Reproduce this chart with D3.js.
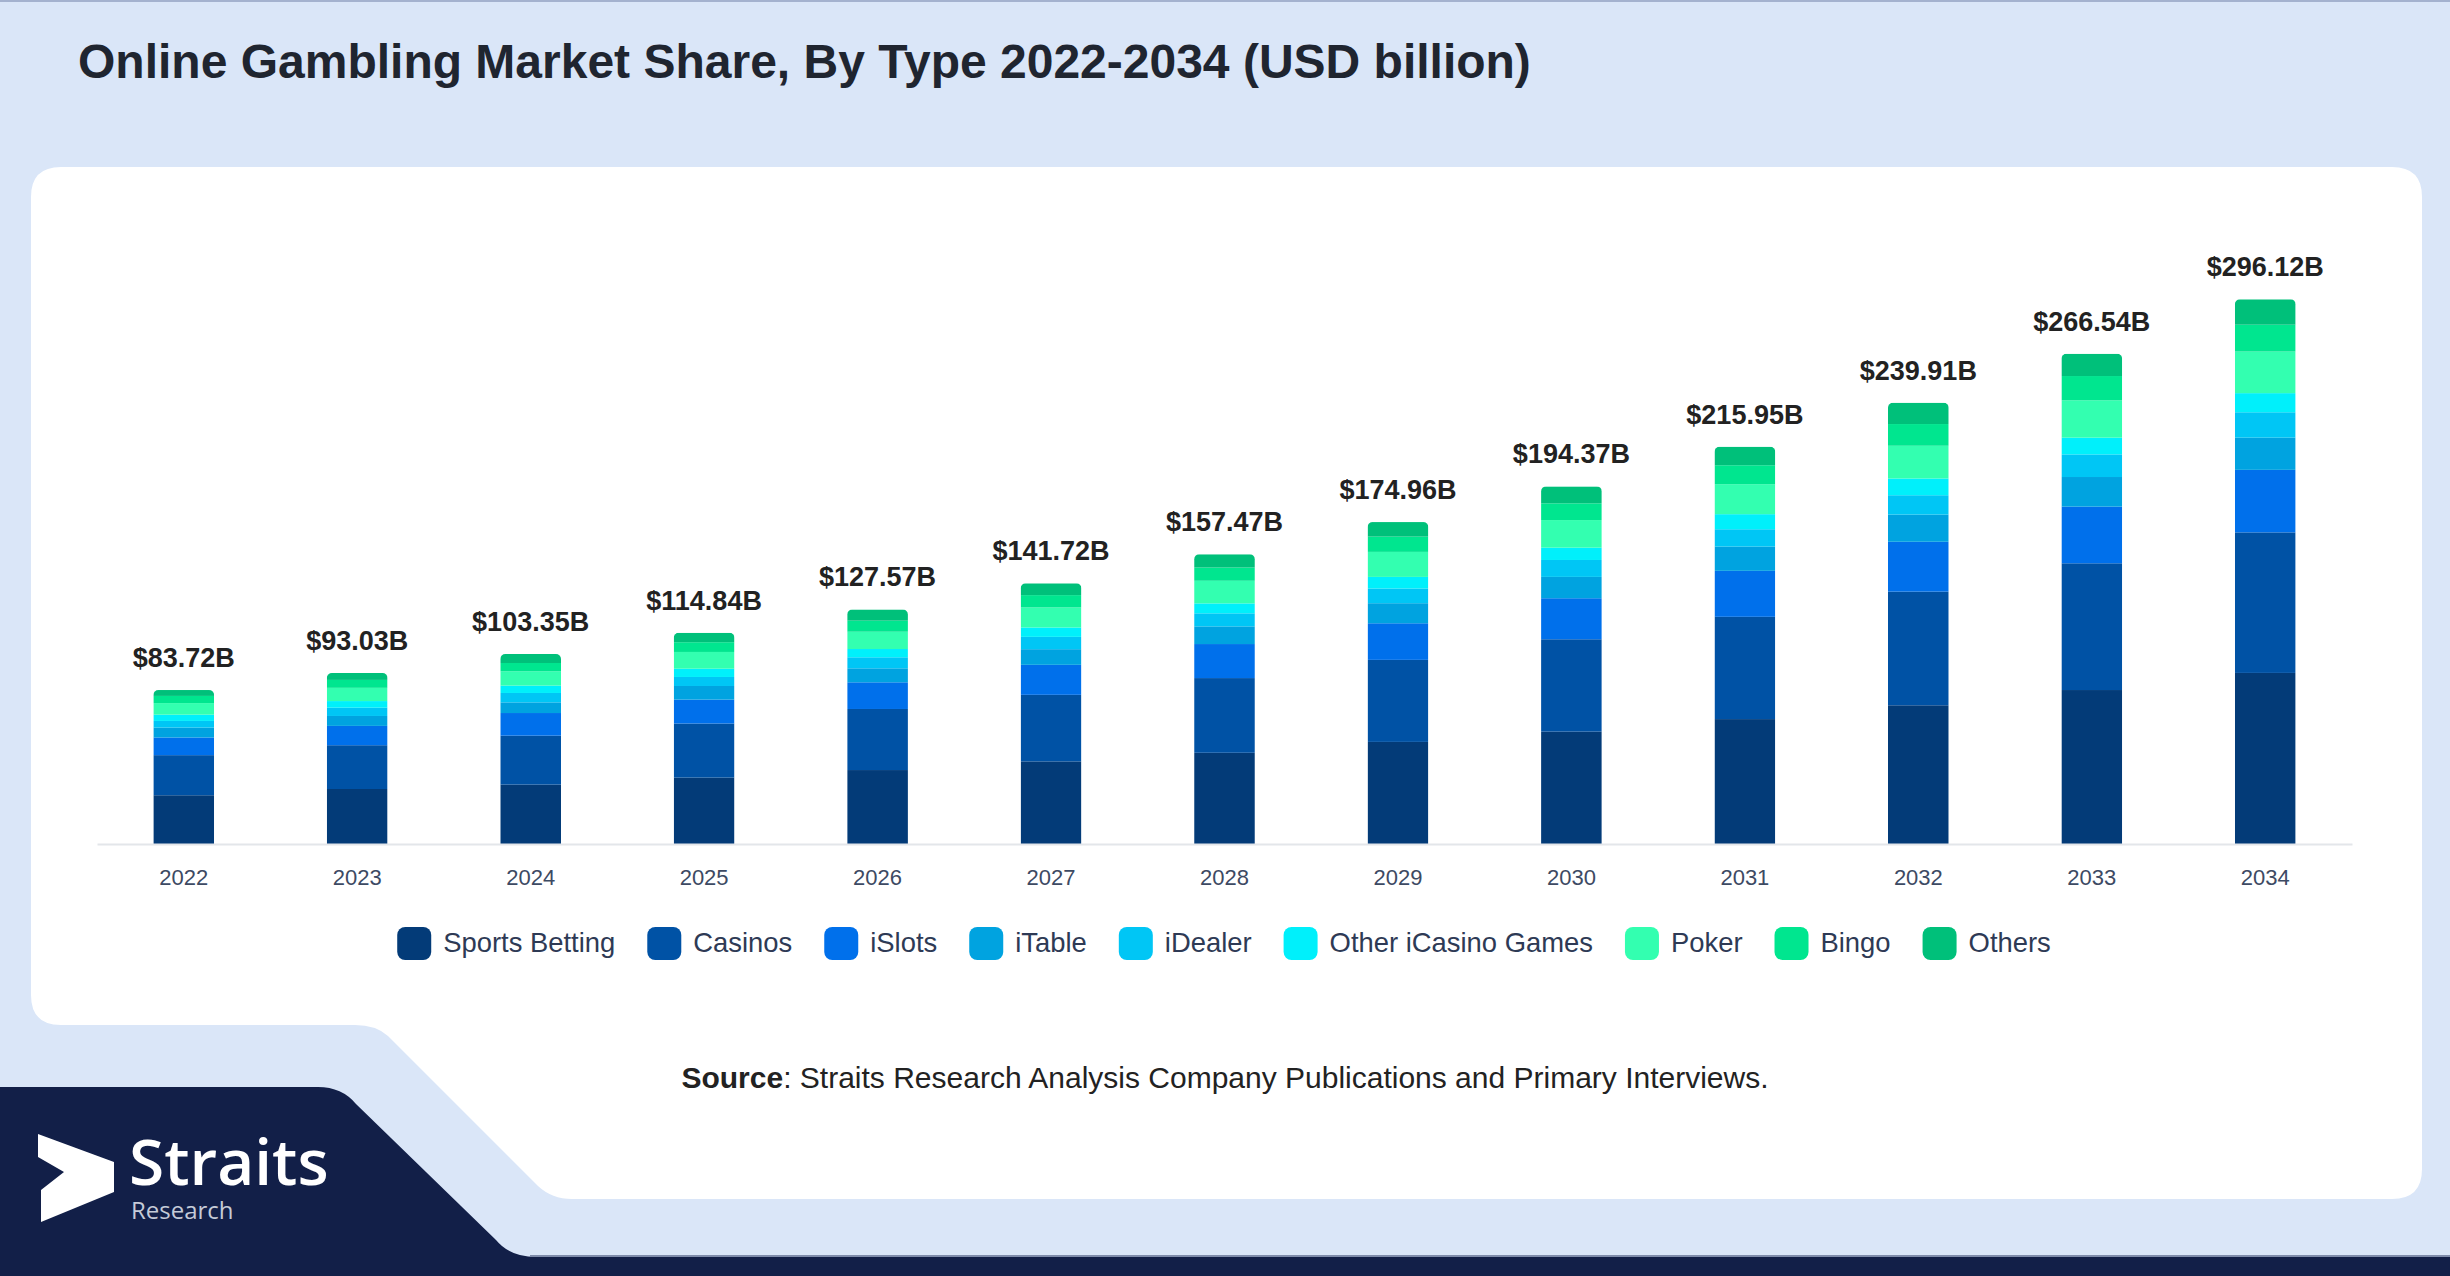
<!DOCTYPE html>
<html>
<head>
<meta charset="utf-8">
<script src="https://cdn.jsdelivr.net/npm/d3@7"></script>
<style>
  body { margin: 0; padding: 0; background: #dae6f8; }
  svg { display: block; }
</style>
</head>
<body>
<div id="chart"></div>
<script>
// chart data
var years = ["2022", "2023", "2024", "2025", "2026", "2027", "2028", "2029", "2030", "2031", "2032", "2033", "2034"];
var totals = [83.72, 93.03, 103.35, 114.84, 127.57, 141.72, 157.47, 174.96, 194.37, 215.95, 239.91, 266.54, 296.12];
var seriesNames = ["Sports Betting", "Casinos", "iSlots", "iTable", "iDealer", "Other iCasino Games", "Poker", "Bingo", "Others"];

var sportsBetting = [26.5, 29.9, 32.3, 36.1, 40.2, 44.9, 49.6, 55.5, 61.1, 67.9, 75.4, 83.7, 93.0];
var casinos = [21.8, 23.8, 26.6, 29.4, 33.2, 36.2, 40.6, 44.6, 50.2, 55.6, 61.8, 68.9, 76.4];
var iSlots = [9.6, 10.5, 12.3, 13.0, 14.5, 16.3, 18.5, 19.9, 22.3, 25.0, 27.1, 30.8, 34.0];
var iTable = [5.4, 5.4, 5.8, 7.4, 7.6, 8.5, 9.6, 10.9, 11.6, 13.2, 14.8, 16.1, 17.5];
var iDealer = [3.6, 4.5, 5.1, 4.9, 6.0, 6.7, 7.1, 8.0, 9.2, 9.4, 10.5, 12.3, 13.8];
var otherICasino = [3.4, 3.6, 4.0, 4.5, 4.5, 5.1, 5.4, 6.3, 6.7, 8.2, 9.1, 9.1, 10.4];
var poker = [6.3, 7.2, 7.8, 9.1, 9.4, 10.9, 12.3, 13.6, 15.0, 16.3, 17.8, 20.3, 22.6];
var bingo = [3.9, 4.3, 4.5, 5.3, 6.0, 6.7, 7.2, 8.3, 9.1, 10.3, 11.8, 13.2, 14.6];
var others = [3.2, 3.8, 4.9, 5.1, 6.1, 6.4, 7.2, 7.9, 9.2, 10.1, 11.6, 12.1, 13.8];

var seriesValues = [sportsBetting, casinos, iSlots, iTable, iDealer, otherICasino, poker, bingo, others];
var colors = ["#033b78", "#0052a5", "#0070eb", "#00a3e0", "#00c6f5", "#00f0fb", "#33ffb0", "#00e68f", "#00c07a"];

var svgWidth = 2450;
var svgHeight = 1276;

var svg = d3.select("#chart")
  .append("svg")
  .attr("width", svgWidth)
  .attr("height", svgHeight);

// page background + decorations
svg.append("rect")
  .attr("width", svgWidth)
  .attr("height", svgHeight)
  .attr("fill", "#dae6f8");

svg.append("rect")
  .attr("width", svgWidth)
  .attr("height", 2)
  .attr("fill", "#a4b2cf");

// white card with the notch at bottom left
svg.append("path")
  .attr("d", "M61,167 H2392 Q2422,167 2422,197 V1169 Q2422,1199 2392,1199 H572 Q552,1199 538,1186 L388,1036 Q376,1025 355,1025 H61 Q31,1025 31,995 V197 Q31,167 61,167 Z")
  .attr("fill", "#ffffff");

// navy footer shape
svg.append("path")
  .attr("d", "M0,1087 H318 Q342,1087 356,1104 L496,1240 Q510,1257 536,1257 H2450 V1276 H0 Z")
  .attr("fill", "#121f48");

svg.append("rect")
  .attr("x", 530)
  .attr("y", 1255)
  .attr("width", svgWidth - 530)
  .attr("height", 2)
  .attr("fill", "#7f8cab");

// logo
svg.append("polygon")
  .attr("points", "38,1134 114,1162 114,1192 41,1222 41,1190 64,1172 38,1157")
  .attr("fill", "#ffffff");

svg.append("text")
  .attr("x", 129)
  .attr("y", 1185)
  .attr("font-family", "'Open Sans', sans-serif")
  .attr("font-weight", 600)
  .attr("font-size", "64px")
  .attr("fill", "#ffffff")
  .text("Straits");

svg.append("text")
  .attr("x", 131)
  .attr("y", 1219)
  .attr("font-family", "'Open Sans', sans-serif")
  .attr("font-size", "24px")
  .attr("fill", "#c5cbd8")
  .text("Research");

// title
svg.append("text")
  .attr("x", 78)
  .attr("y", 78)
  .attr("font-family", "'Liberation Sans', Arial, sans-serif")
  .attr("font-weight", "bold")
  .attr("font-size", "48px")
  .attr("fill", "#1f2530")
  .text("Online Gambling Market Share, By Type 2022-2034 (USD billion)");

// scales
var xBandScale = d3.scaleBand()
  .domain(years)
  .range([97, 2352])
  .paddingInner(0.65)
  .paddingOuter(0.325);

var yLinearScale = d3.scaleLinear()
  .domain([0, 300])
  .range([844, 844 - 300 * 1.8395]);

// stacked data
var rows = years.map(function(y, i) {
  var row = { year: y };
  seriesNames.forEach(function(name, s) {
    row[name] = seriesValues[s][i];
  });
  return row;
});

var stacked = d3.stack().keys(seriesNames)(rows);

// clip paths to round the top of every bar
var defs = svg.append("defs");
years.forEach(function(y, i) {
  var top = d3.sum(seriesValues, function(v) { return v[i]; });
  defs.append("clipPath")
    .attr("id", "clip" + y)
    .append("rect")
    .attr("x", xBandScale(y))
    .attr("y", yLinearScale(top))
    .attr("width", xBandScale.bandwidth())
    .attr("height", yLinearScale(0) - yLinearScale(top) + 8)
    .attr("rx", 5);
});

var chartGroup = svg.append("g");

var barGroups = chartGroup.selectAll(".year")
  .data(years)
  .enter()
  .append("g")
  .attr("class", "year")
  .attr("clip-path", function(d) { return "url(#clip" + d + ")"; });

barGroups.selectAll("rect")
  .data(function(d, i) {
    return stacked.map(function(layer, s) {
      return { year: d, y0: layer[i][0], y1: layer[i][1], color: colors[s] };
    });
  })
  .enter()
  .append("rect")
  .attr("x", function(d) { return xBandScale(d.year); })
  .attr("y", function(d) { return yLinearScale(d.y1); })
  .attr("width", xBandScale.bandwidth())
  .attr("height", function(d) { return yLinearScale(d.y0) - yLinearScale(d.y1); })
  .attr("fill", function(d) { return d.color; });

// x axis
var bottomAxis = d3.axisBottom(xBandScale).tickSize(0).tickPadding(25);

var axisG = chartGroup.append("g")
  .attr("transform", "translate(0, 844)")
  .call(bottomAxis);

axisG.select(".domain")
  .attr("stroke", "#e3e6ea")
  .attr("stroke-width", 2);

axisG.selectAll("text")
  .attr("font-family", "'Liberation Sans', Arial, sans-serif")
  .attr("font-size", "22px")
  .attr("fill", "#3d4a63");

// total labels
chartGroup.selectAll(".total")
  .data(years)
  .enter()
  .append("text")
  .attr("class", "total")
  .attr("x", function(d) { return xBandScale(d) + xBandScale.bandwidth() / 2; })
  .attr("y", function(d, i) { return yLinearScale(totals[i]) - 23; })
  .attr("text-anchor", "middle")
  .attr("font-family", "'Liberation Sans', Arial, sans-serif")
  .attr("font-weight", "bold")
  .attr("font-size", "27px")
  .attr("fill", "#222222")
  .text(function(d, i) { return "$" + totals[i].toFixed(2) + "B"; });

// legend
var legend = svg.append("g");
var legendItems = legend.selectAll(".item")
  .data(seriesNames)
  .enter()
  .append("g")
  .attr("class", "item");

legendItems.append("rect")
  .attr("width", 34)
  .attr("height", 33)
  .attr("rx", 8)
  .attr("y", 927)
  .attr("fill", function(d, i) { return colors[i]; });

legendItems.append("text")
  .attr("y", 952)
  .attr("font-family", "'Liberation Sans', Arial, sans-serif")
  .attr("font-size", "27.4px")
  .attr("fill", "#2e3a55")
  .text(function(d) { return d; });

var offsets = [];
var cursor = 0;
legendItems.each(function() {
  var w = d3.select(this).select("text").node().getComputedTextLength();
  offsets.push(cursor);
  cursor += 34 + 12 + w + 32;
});
var legendWidth = cursor - 32;
var legendStart = 1224 - legendWidth / 2;

legendItems.each(function(d, i) {
  var g = d3.select(this);
  g.select("rect").attr("x", legendStart + offsets[i]);
  g.select("text").attr("x", legendStart + offsets[i] + 46);
});

// source line
var source = svg.append("text")
  .attr("x", 1225)
  .attr("y", 1088)
  .attr("text-anchor", "middle")
  .attr("font-family", "'Liberation Sans', Arial, sans-serif")
  .attr("font-size", "30px")
  .attr("fill", "#222222");

source.append("tspan")
  .attr("font-weight", "bold")
  .text("Source");

source.append("tspan")
  .text(": Straits Research Analysis Company Publications and Primary Interviews.");
</script>
</body>
</html>
